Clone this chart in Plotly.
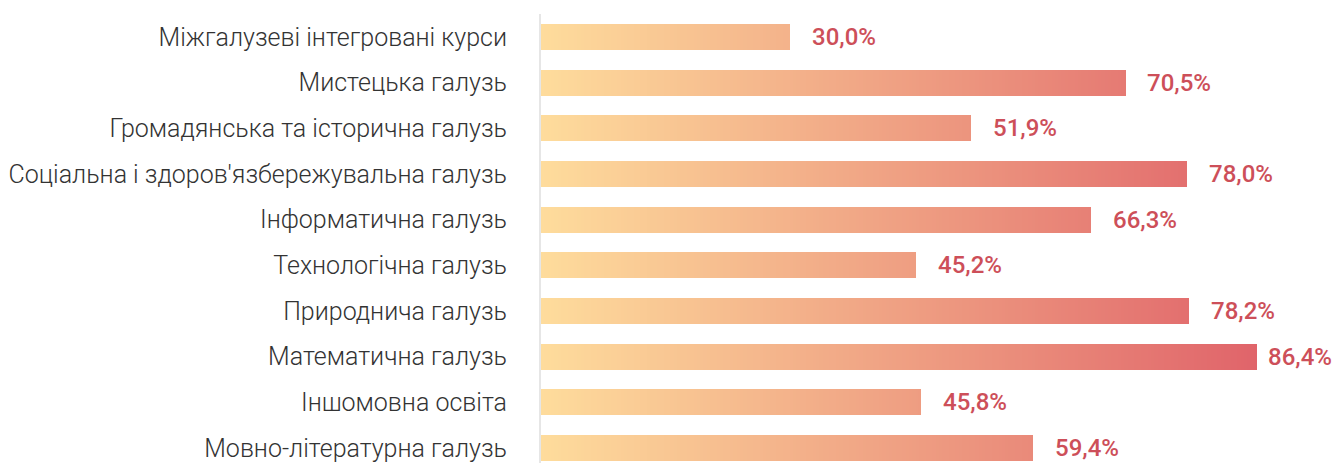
"""Horizontal bar chart with a left-to-right warm gradient fill."""

import plotly.graph_objects as go
from plotly.colors import sample_colorscale

categories = [
    "Міжгалузеві інтегровані курси",
    "Мистецька галузь",
    "Громадянська та історична галузь",
    "Соціальна і здоров'язбережувальна галузь",
    "Інформатична галузь",
    "Технологічна галузь",
    "Природнича галузь",
    "Математична галузь",
    "Іншомовна освіта",
    "Мовно-літературна галузь",
]
values = [30.0, 70.5, 51.9, 78.0, 66.3, 45.2, 78.2, 86.4, 45.8, 59.4]
labels = [f"{v:.1f}%".replace(".", ",") for v in values]

GRADIENT = [[0.0, "rgb(254,220,156)"], [1.0, "rgb(224,100,106)"]]
STEP = 0.4
vmax = max(values)

fig = go.Figure()

# Build each bar out of thin slices so the colour follows the x position.
n_steps = int(vmax / STEP) + 1
for k in range(n_steps):
    start = k * STEP
    widths = [max(0.0, min(v, start + STEP * 1.3) - start) for v in values]
    if not any(widths):
        continue
    color = sample_colorscale(GRADIENT, min(1.0, (start + STEP / 2) / vmax))[0]
    fig.add_trace(
        go.Bar(
            x=widths,
            y=categories,
            base=[start] * len(values),
            orientation="h",
            width=0.57,
            marker={"color": color, "line": {"width": 0}},
            hoverinfo="skip",
            showlegend=False,
        )
    )

for cat, v, text in zip(categories, values, labels):
    fig.add_annotation(
        x=v,
        y=cat,
        text=text,
        showarrow=False,
        xanchor="left",
        xshift=20 if v < 80 else 9,
        font={"family": "Roboto", "size": 24, "color": "#cd4f59", "weight": 500},
    )

fig.update_layout(
    barmode="overlay",
    width=1335,
    height=463,
    margin={"l": 541, "r": 0, "t": 14, "b": 0},
    plot_bgcolor="white",
    paper_bgcolor="white",
    bargap=0,
)
fig.update_xaxes(
    range=[0, 95.8],
    visible=False,
)
fig.update_yaxes(
    range=[9.33, -0.5],
    showline=True,
    linecolor="#e6e6e6",
    linewidth=2,
    showgrid=False,
    ticks="outside",
    ticklen=27,
    tickcolor="rgba(0,0,0,0)",
    tickfont={"family": "Roboto", "size": 25, "color": "#333333", "weight": 300},
)

# drop the default page margin so the figure fills the window exactly
fig.write_html(
    "out.html",
    config={"displayModeBar": False},
    post_script="document.body.style.margin='0';document.body.style.overflow='hidden';",
)
